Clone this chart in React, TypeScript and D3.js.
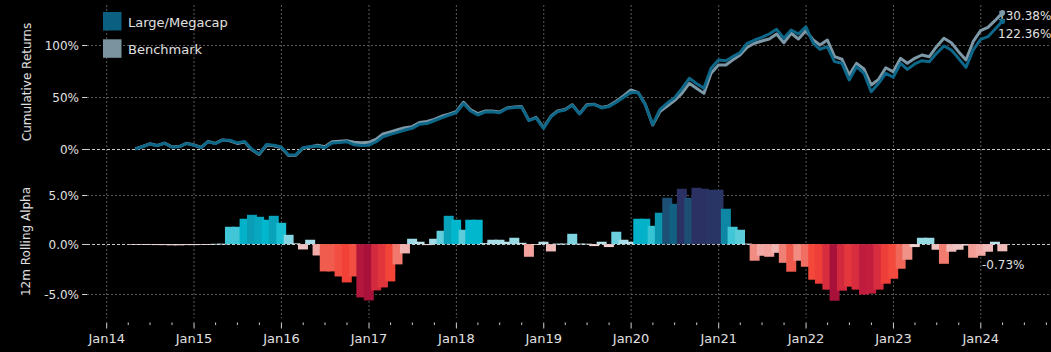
import React, { useEffect, useRef } from 'react';
import * as d3 from 'd3';

// Monthly (month-end) data, Apr 2014 .. Mar 2024
const megacap = [
  -0.5, 1.7, 4.3, 2.7, 5.0, 1.4, 1.7, 4.8, 3.2, 0.8, 6.5, 4.7, 8.0, 7.9, 5.4, 6.8, -0.8, -5.2, 3.9, 3.2,
  1.5, -6.3, -6.1, 0.8, 2.0, 2.4, 0.8, 5.4, 5.8, 6.5, 3.5, 2.8, 3.2, 6.5, 11.3, 13.6, 15.5, 17.8, 19.4, 23.4,
  24.0, 26.7, 29.5, 32.0, 34.4, 43.3, 36.3, 32.2, 35.0, 35.4, 34.4, 38.6, 39.4, 40.0, 27.0, 29.5, 19.4, 30.5, 35.5, 37.0,
  41.5, 33.2, 41.5, 42.3, 39.0, 40.3, 44.5, 49.0, 54.0, 53.5, 42.0, 23.0, 37.3, 43.7, 48.7, 57.5, 67.5, 62.5, 57.9, 77.1,
  85.0, 84.4, 88.3, 92.1, 101.2, 104.3, 106.9, 110.1, 114.6, 106.0, 113.9, 110.1, 117.1, 101.2, 95.4, 97.9, 83.5, 81.9, 65.9, 78.7,
  72.3, 54.6, 62.7, 72.3, 68.5, 81.9, 76.1, 81.3, 84.4, 83.5, 91.5, 98.6, 94.7, 86.7, 78.0, 94.7, 105.0, 107.5, 114.6, 122.36,
];
const benchmark = [
  -0.3, 1.9, 4.5, 2.9, 5.2, 1.6, 1.9, 5.0, 3.4, 1.0, 6.7, 4.9, 8.2, 7.4, 4.9, 6.3, -1.3, -5.7, 3.4, 2.7,
  1.0, -6.8, -6.6, 0.3, 1.5, 3.2, 1.8, 6.5, 7.0, 7.5, 6.0, 5.5, 6.0, 9.0, 14.0, 16.0, 18.0, 20.0, 21.0, 25.0,
  26.0, 28.0, 31.0, 33.0, 35.5, 44.5, 37.5, 33.5, 36.0, 36.0, 35.0, 39.0, 40.0, 40.5, 27.0, 30.0, 20.0, 31.0, 36.0, 37.5,
  42.0, 33.5, 42.0, 42.5, 39.5, 41.0, 45.5, 50.5, 56.3, 53.7, 42.5, 22.6, 35.4, 40.9, 46.0, 53.0, 62.7, 57.9, 53.0, 72.3,
  80.3, 80.3, 85.0, 89.9, 97.3, 101.2, 103.4, 105.3, 110.1, 101.7, 110.8, 105.3, 113.3, 104.3, 99.5, 104.3, 88.3, 85.8, 70.7, 81.9,
  76.4, 61.1, 66.5, 77.7, 73.8, 86.7, 81.9, 86.7, 89.9, 88.3, 97.9, 106.0, 101.7, 93.1, 85.1, 102.7, 113.3, 116.5, 122.9, 130.38,
];
const rollingAlpha = [
  -0.03, -0.05, -0.06, -0.1, -0.1, -0.12, -0.12, -0.1, -0.1, -0.03, -0.03, 0.03, 0.04, 1.75, 1.75, 2.56, 2.96, 2.76, 2.46, 2.86,
  2.15, 0.94, 0.08, -0.54, 0.44, -1.15, -2.76, -2.76, -3.27, -3.87, -3.27, -5.39, -5.69, -4.68, -4.38, -3.77, -2.05, -0.94, 0.54, 0.24,
  -0.1, 0.54, 1.35, 2.86, 2.46, 1.45, 2.46, 2.46, 0.1, 0.44, 0.44, 0.24, 0.64, 0.13, -1.28, -0.05, 0.24, -0.74, 0.05, 0.05,
  1.04, 0.05, 0.04, -0.2, 0.24, -0.3, 1.25, 0.44, 0.24, 2.56, 2.56, 1.85, 3.17, 4.68, 4.07, 5.59, 4.68, 5.69, 5.59, 5.49,
  5.49, 3.57, 1.75, 1.45, 0.05, -1.68, -1.18, -1.28, -0.88, -1.89, -2.79, -1.68, -2.29, -3.6, -4.0, -4.6, -5.72, -4.7, -4.3, -4.6,
  -5.1, -5.0, -4.6, -4.0, -3.5, -2.49, -1.58, -0.3, 0.64, 0.64, -0.57, -1.99, -0.77, -0.57, -0.15, -1.38, -1.18, -0.77, 0.24, -0.73,
];
const yearLabels = ['Jan14', 'Jan15', 'Jan16', 'Jan17', 'Jan18', 'Jan19', 'Jan20', 'Jan21', 'Jan22', 'Jan23', 'Jan24'];
const returnTicks = [0, 50, 100];
const alphaTicks = [-5, 0, 5];
const seriesNames = ['Large/Megacap', 'Benchmark'];

const W = 1051;
const H = 352;
const FONT = "'DejaVu Sans', sans-serif";

export default function App() {
  const ref = useRef<SVGSVGElement>(null);

  useEffect(() => {
    const svg = d3.select(ref.current);
    svg.selectAll('*').remove();

    const dates = megacap.map((_, i) => new Date(2014, 4 + i, 0));
    const x = d3.scaleTime().domain([new Date(2014, 0, 1), new Date(2024, 0, 1)]).range([106.7, 980.8]);
    const yTop = d3.scaleLinear().domain([0, 100]).range([148.5, 44.5]);
    const yBot = d3.scaleLinear().domain([-5, 5]).range([293.6, 194.6]);

    const plotLeft = 87;
    const gridTop = 5;
    const gridBottom = 318;

    const negColor = d3.scaleLinear<string>()
      .domain([-5.7, -5.0, -4.4, -3.8, -2.8, -2.0, -1.2, -0.5, 0])
      .range(['#a8123a', '#c41e3f', '#e0343e', '#f44336', '#f05a4c', '#f07a6e', '#f2a8a2', '#efc6c6', '#f0dcdc'])
      .clamp(true);
    const posColor = d3.scaleLinear<string>()
      .domain([0, 0.5, 1.0, 1.75, 2.4, 3.0, 3.6, 4.1, 4.7, 5.6])
      .range(['#d0e8ec', '#a2dce6', '#80d4e0', '#40c6d6', '#00bad0', '#0a9bb4', '#0d86a2', '#135f80', '#1d4d73', '#2b3263'])
      .clamp(true);

    svg.append('rect').attr('width', W).attr('height', H).attr('fill', '#000');

    const years = yearLabels.map((_, k) => new Date(2014 + k, 0, 1));

    // vertical grid
    svg.append('g').selectAll('line').data(years).join('line')
      .attr('x1', d => x(d)).attr('x2', d => x(d))
      .attr('y1', gridTop).attr('y2', gridBottom)
      .attr('stroke', '#5a5a5a').attr('stroke-width', 1).attr('stroke-dasharray', '2,2');

    // horizontal grids
    const hgrid = (y: number, zero: boolean) => {
      svg.append('line').attr('x1', plotLeft).attr('x2', W).attr('y1', y).attr('y2', y)
        .attr('stroke', zero ? '#c8c8c8' : '#5a5a5a').attr('stroke-width', 1)
        .attr('stroke-dasharray', zero ? '3,2' : '2,2');
    };
    returnTicks.forEach(t => hgrid(Math.round(yTop(t)) + 0.5, t === 0));
    alphaTicks.forEach(t => hgrid(Math.round(yBot(t)) + 0.5, t === 0));

    // y ticks & labels
    const yTick = (y: number, label: string) => {
      svg.append('line').attr('x1', 82).attr('x2', 87).attr('y1', y).attr('y2', y)
        .attr('stroke', '#d0d0d0').attr('stroke-width', 1);
      svg.append('text').attr('x', 79).attr('y', y).attr('dy', '0.35em')
        .attr('text-anchor', 'end').attr('fill', '#e0e0e0')
        .style('font-family', FONT).style('font-size', '12px').text(label);
    };
    returnTicks.forEach(t => yTick(Math.round(yTop(t)) + 0.5, `${t}%`));
    alphaTicks.forEach(t => yTick(Math.round(yBot(t)) + 0.5, `${t.toFixed(1)}%`));

    // axis titles
    svg.append('text').attr('transform', 'translate(31,82) rotate(-90)')
      .attr('text-anchor', 'middle').attr('fill', '#e0e0e0')
      .style('font-family', FONT).style('font-size', '12px').text('Cumulative Returns');
    svg.append('text').attr('transform', 'translate(29.5,241.5) rotate(-90)')
      .attr('text-anchor', 'middle').attr('fill', '#e0e0e0')
      .style('font-family', FONT).style('font-size', '12px').text('12m Rolling Alpha');

    // bars
    const barW = 10;
    svg.append('g').selectAll('rect').data(rollingAlpha).join('rect')
      .attr('x', (_, i) => x(dates[i]) - barW / 2)
      .attr('width', barW)
      .attr('y', d => yBot(Math.max(d, 0)))
      .attr('height', d => Math.max(0.8, Math.abs(yBot(d) - yBot(0))))
      .attr('fill', d => (d >= 0 ? posColor(d) : negColor(d)));

    // lines
    const line = d3.line<number>().x((_, i) => x(dates[i])).y(d => yTop(d));
    svg.append('path').datum(benchmark).attr('d', line)
      .attr('fill', 'none').attr('stroke', '#7d98a6').attr('stroke-width', 3).attr('stroke-linejoin', 'round');
    svg.append('path').datum(megacap).attr('d', line)
      .attr('fill', 'none').attr('stroke', '#0d6788').attr('stroke-width', 3).attr('stroke-linejoin', 'round');

    // end labels
    const last = megacap.length - 1;
    svg.append('text').attr('x', 998).attr('y', 20).attr('fill', '#e0e0e0')
      .style('font-family', FONT).style('font-size', '12px').text(`${benchmark[last].toFixed(2)}%`);
    svg.append('text').attr('x', 998).attr('y', 38).attr('fill', '#e0e0e0')
      .style('font-family', FONT).style('font-size', '12px').text(`${megacap[last].toFixed(2)}%`);
    svg.append('circle').attr('cx', x(dates[last])).attr('cy', yTop(benchmark[last])).attr('r', 2.8).attr('fill', '#7d98a6');
    svg.append('circle').attr('cx', x(dates[last])).attr('cy', yTop(megacap[last])).attr('r', 2.8).attr('fill', '#0d6788');

    svg.append('text').attr('x', 982).attr('y', 268.5).attr('fill', '#e0e0e0')
      .style('font-family', FONT).style('font-size', '12px').text(`${rollingAlpha[last].toFixed(2)}%`);

    // x axis ticks
    const quarters = d3.timeMonth.every(3)!.range(new Date(2014, 0, 1), new Date(2024, 9, 2));
    svg.append('g').selectAll('line').data(quarters).join('line')
      .attr('x1', d => x(d)).attr('x2', d => x(d))
      .attr('y1', 322.5).attr('y2', d => (d.getMonth() === 0 ? 328.5 : 325))
      .attr('stroke', '#d0d0d0').attr('stroke-width', 1);
    svg.append('g').selectAll('text').data(years).join('text')
      .attr('x', d => x(d)).attr('y', 343).attr('text-anchor', 'middle').attr('fill', '#e0e0e0')
      .style('font-family', FONT).style('font-size', '13px')
      .text((_, k) => yearLabels[k]);

    // legend
    const legendColors = ['#0b5f80', '#7a939f'];
    seriesNames.forEach((name, k) => {
      svg.append('rect').attr('x', 103).attr('y', 12 + k * 27.3).attr('width', 18.5).attr('height', 18.5)
        .attr('fill', legendColors[k]);
      svg.append('text').attr('x', 128).attr('y', 26.5 + k * 27.3).attr('fill', '#e0e0e0')
        .style('font-family', FONT).style('font-size', '13px').text(name);
    });
  }, []);

  return (
    <svg
      ref={ref}
      width={W}
      height={H}
      style={{ position: 'absolute', left: 0, top: 0, display: 'block', background: '#000' }}
    />
  );
}
